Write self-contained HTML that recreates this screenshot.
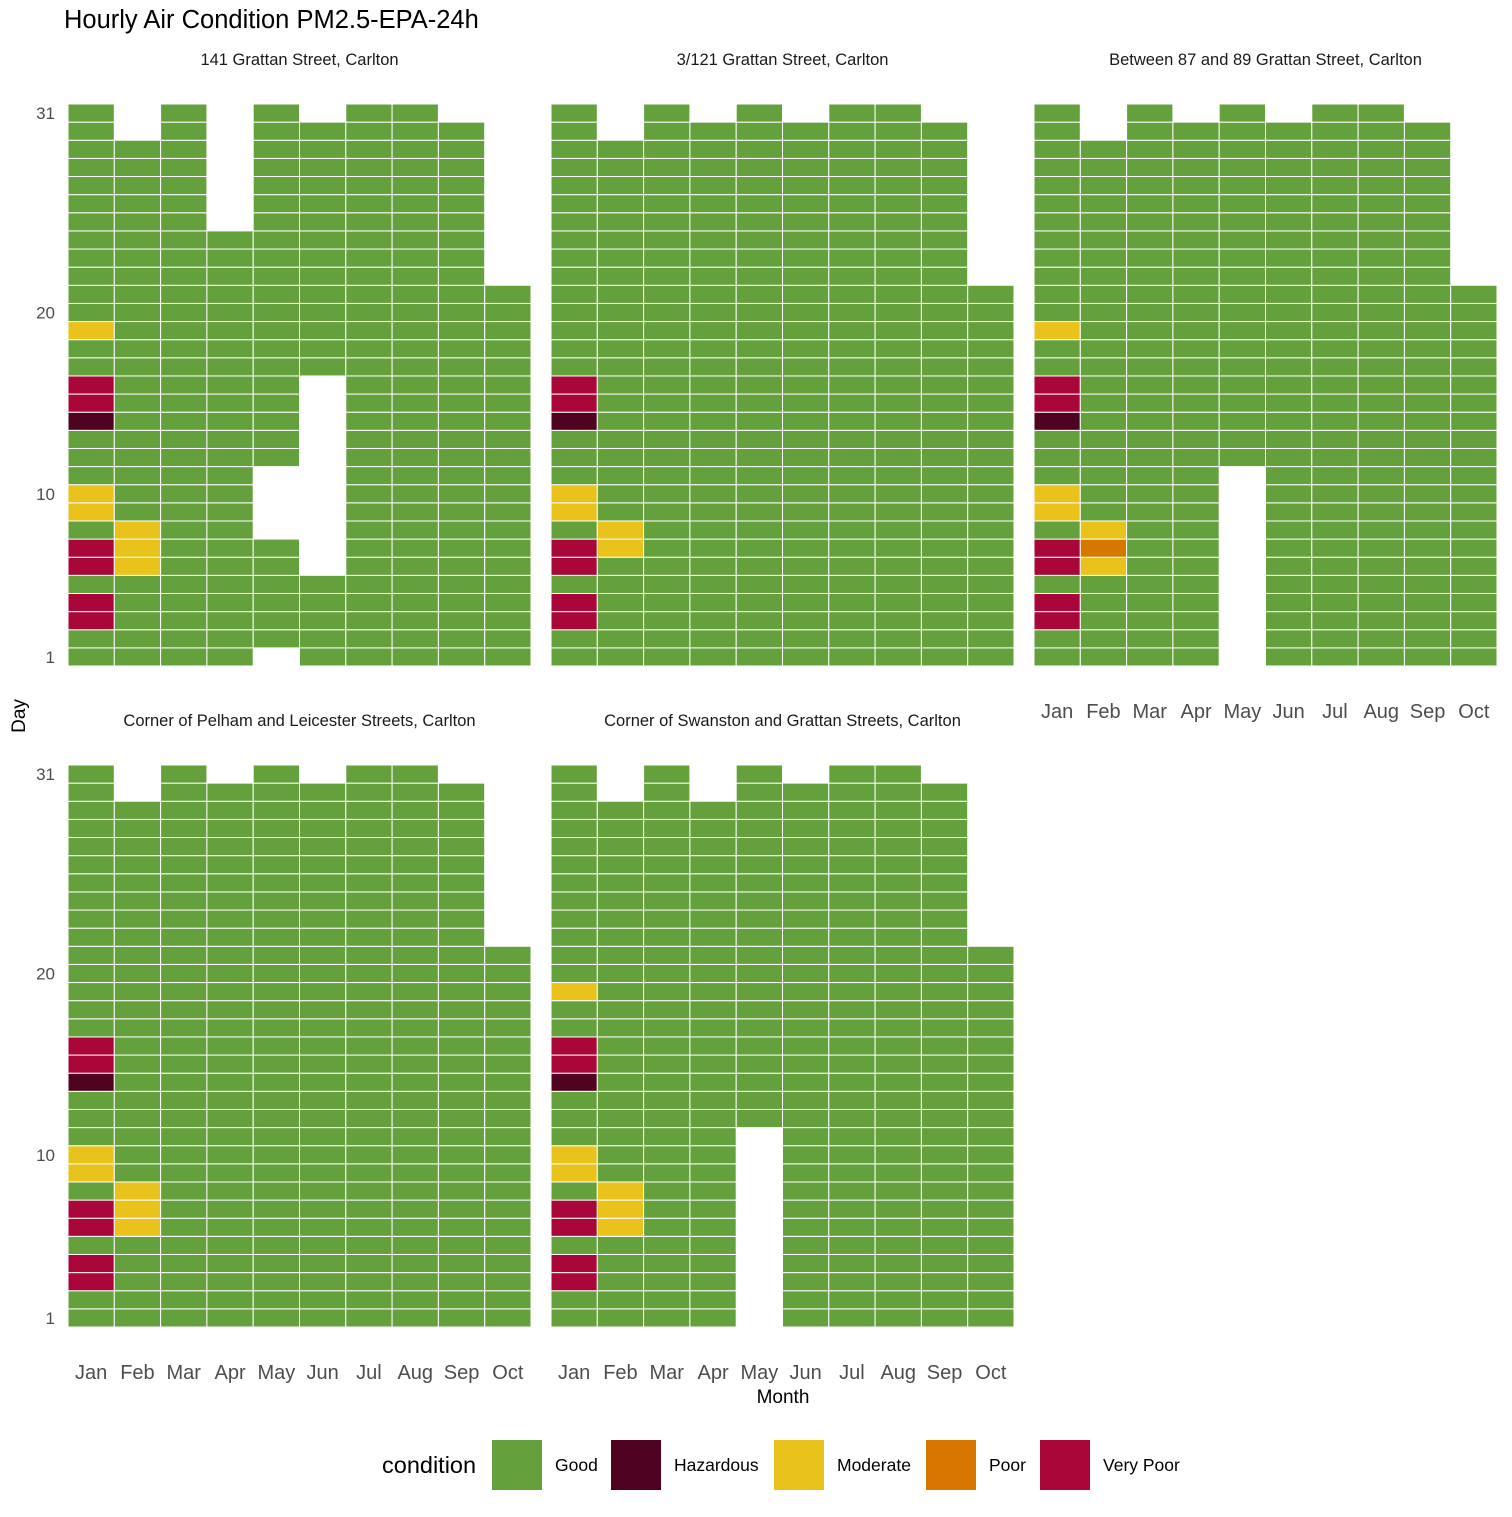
<!DOCTYPE html>
<html><head><meta charset="utf-8">
<style>
html,body{margin:0;padding:0;background:#fff;}
svg text{font-family:"Liberation Sans",sans-serif;}
</style></head>
<body>
<svg id="chart" width="1512" height="1512" viewBox="0 0 1512 1512" xmlns="http://www.w3.org/2000/svg">
<text x="64" y="28" font-size="25.5" fill="#000">Hourly Air Condition PM2.5-EPA-24h</text>
<text transform="translate(25,716) rotate(-90)" text-anchor="middle" font-size="19" fill="#000">Day</text>
<text x="783" y="1403" text-anchor="middle" font-size="19" fill="#000">Month</text>
<g id="panels"></g>
<g id="legend"></g>
</svg>
<script>
const months = ["Jan","Feb","Mar","Apr","May","Jun","Jul","Aug","Sep","Oct"];
const yTicks = [1,10,20,31];
const conditions = ["Good","Hazardous","Moderate","Poor","Very Poor"];
const condColors = {"Good":"#64A03C","Hazardous":"#4F0320","Moderate":"#E9C31C","Poor":"#D67800","Very Poor":"#A90639"};
const panelTitles = ["141 Grattan Street, Carlton","3/121 Grattan Street, Carlton","Between 87 and 89 Grattan Street, Carlton","Corner of Pelham and Leicester Streets, Carlton","Corner of Swanston and Grattan Streets, Carlton"];
// last recorded day per month, per panel
const maxDays = [
  [31,29,31,24,31,30,31,31,30,21],
  [31,29,31,30,31,30,31,31,30,21],
  [31,29,31,30,31,30,31,31,30,21],
  [31,29,31,30,31,30,31,31,30,21],
  [31,29,31,29,31,30,31,31,30,21]
];
// missing days: [panel, monthIndex, fromDay, toDay]
const missing = [
  [0,4,1,1],[0,4,8,11],[0,5,6,16],
  [2,4,1,11],
  [4,4,1,11]
];
// non-Good days: [panel, monthIndex, day, condition]
const specials = [
  [0,0,19,"Moderate"],[0,0,16,"Very Poor"],[0,0,15,"Very Poor"],[0,0,14,"Hazardous"],[0,0,10,"Moderate"],[0,0,9,"Moderate"],[0,0,7,"Very Poor"],[0,0,6,"Very Poor"],[0,0,4,"Very Poor"],[0,0,3,"Very Poor"],[0,1,8,"Moderate"],[0,1,7,"Moderate"],[0,1,6,"Moderate"],
  [1,0,16,"Very Poor"],[1,0,15,"Very Poor"],[1,0,14,"Hazardous"],[1,0,10,"Moderate"],[1,0,9,"Moderate"],[1,0,7,"Very Poor"],[1,0,6,"Very Poor"],[1,0,4,"Very Poor"],[1,0,3,"Very Poor"],[1,1,8,"Moderate"],[1,1,7,"Moderate"],
  [2,0,19,"Moderate"],[2,0,16,"Very Poor"],[2,0,15,"Very Poor"],[2,0,14,"Hazardous"],[2,0,10,"Moderate"],[2,0,9,"Moderate"],[2,0,7,"Very Poor"],[2,0,6,"Very Poor"],[2,0,4,"Very Poor"],[2,0,3,"Very Poor"],[2,1,8,"Moderate"],[2,1,7,"Poor"],[2,1,6,"Moderate"],
  [3,0,16,"Very Poor"],[3,0,15,"Very Poor"],[3,0,14,"Hazardous"],[3,0,10,"Moderate"],[3,0,9,"Moderate"],[3,0,7,"Very Poor"],[3,0,6,"Very Poor"],[3,0,4,"Very Poor"],[3,0,3,"Very Poor"],[3,1,8,"Moderate"],[3,1,7,"Moderate"],[3,1,6,"Moderate"],
  [4,0,19,"Moderate"],[4,0,16,"Very Poor"],[4,0,15,"Very Poor"],[4,0,14,"Hazardous"],[4,0,10,"Moderate"],[4,0,9,"Moderate"],[4,0,7,"Very Poor"],[4,0,6,"Very Poor"],[4,0,4,"Very Poor"],[4,0,3,"Very Poor"],[4,1,8,"Moderate"],[4,1,7,"Moderate"],[4,1,6,"Moderate"]
];

const NS = "http://www.w3.org/2000/svg";
const layout = [{x:68,y:104},{x:551,y:104},{x:1034,y:104},{x:68,y:765},{x:551,y:765}];
const PW = 463, PH = 562, rowH = PH/31, colW = PW/months.length;
function mk(tag, attrs, parent){const e=document.createElementNS(NS,tag);for(const k in attrs)e.setAttribute(k,attrs[k]);parent.appendChild(e);return e;}
const root = document.getElementById('panels');

layout.forEach((L,p)=>{
  const xScale = m => L.x + m*colW;
  const yScale = d => L.y + (31-d)*rowH; // top of cell
  const g = mk('g',{},root);
  
  
  const st = mk('text',{x:L.x+PW/2,y:L.y-39,'text-anchor':'middle','font-size':16.5,fill:'#1a1a1a'},g);
  st.textContent = panelTitles[p];
  
  
  months.forEach((mn,m)=>{
    for(let d=1; d<=maxDays[p][m]; d++){
      if(missing.some(r=>r[0]===p&&r[1]===m&&d>=r[2]&&d<=r[3])) continue;
      const sp = specials.find(r=>r[0]===p&&r[1]===m&&r[2]===d);
      const c = sp ? sp[3] : "Good";
      const r = mk('rect',{x:xScale(m),y:yScale(d),width:colW,height:rowH,fill:condColors[c],stroke:'#fff','stroke-width':1},g);
      
      
    }
  });
  if(p===0||p===3){
    yTicks.forEach(t=>{
      const tt = mk('text',{x:L.x-13,y:yScale(t)+rowH/2+6,'text-anchor':'end','font-size':17,fill:'#4d4d4d'},g);
      tt.textContent = t;
      
      
    });
  }
  if(p>=2){
    months.forEach((mn,m)=>{
      const xt = mk('text',{x:xScale(m)+colW/2,y:L.y+PH+52,'text-anchor':'middle','font-size':20,fill:'#4d4d4d'},g);
      xt.textContent = mn;
      
      
    });
  }
});

// legend
const lg = document.getElementById('legend');
const lt = mk('text',{x:382,y:1473,'font-size':23.5,fill:'#000'},lg);
lt.textContent = 'condition';


const keyX = [492,611,774,926,1040];
conditions.forEach((c,i)=>{
  const kg = mk('g',{},lg);
  
  
  mk('rect',{x:keyX[i],y:1440,width:50,height:50,fill:condColors[c]},kg);
  const tx = mk('text',{x:keyX[i]+63,y:1471,'font-size':17.5,fill:'#000'},kg);
  tx.textContent = c;
});
</script>
</body></html>
